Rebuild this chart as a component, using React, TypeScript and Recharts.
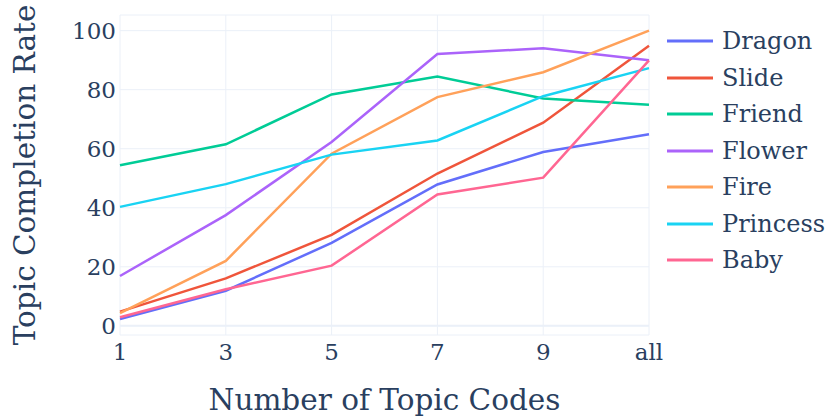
import {
  CartesianGrid,
  Legend,
  Line,
  LineChart,
  ReferenceLine,
  XAxis,
  YAxis,
} from "recharts";

const codes = ["1", "3", "5", "7", "9", "all"];

const dragon = [2.3, 11.9, 28.1, 47.9, 58.9, 64.9];
const slide = [4.8, 16.1, 30.8, 51.6, 68.8, 94.9];
const friend = [54.4, 61.5, 78.4, 84.5, 77.0, 74.9];
const flower = [16.9, 37.5, 62.3, 92.1, 94.0, 90.0];
const fire = [4.3, 22.0, 58.3, 77.5, 85.9, 100.0];
const princess = [40.3, 48.0, 58.0, 62.8, 77.8, 87.3];
const baby = [2.9, 12.4, 20.4, 44.5, 50.2, 89.9];

const yTicks = [0, 20, 40, 60, 80, 100];

const series = [
  { key: "Dragon", values: dragon, color: "#636efa" },
  { key: "Slide", values: slide, color: "#ef553b" },
  { key: "Friend", values: friend, color: "#00cc96" },
  { key: "Flower", values: flower, color: "#ab63fa" },
  { key: "Fire", values: fire, color: "#ffa15a" },
  { key: "Princess", values: princess, color: "#19d3f3" },
  { key: "Baby", values: baby, color: "#ff6692" },
];

const data = codes.map((code, i) => {
  const row: Record<string, string | number> = { code };
  series.forEach((s) => {
    row[s.key] = s.values[i];
  });
  return row;
});

const FONT = "'DejaVu Serif', serif";
const TEXT = "#2a3f5f";
const GRID = "#ebf0f8";

function LegendBox() {
  return (
    <div style={{ fontFamily: FONT, color: TEXT, fontSize: 24 }}>
      {series.map((s) => (
        <div
          key={s.key}
          style={{ display: "flex", alignItems: "center", height: 36.5 }}
        >
          <svg width={46} height={6} style={{ marginRight: 9 }}>
            <line x1={0} y1={3} x2={46} y2={3} stroke={s.color} strokeWidth={3} />
          </svg>
          <span>{s.key}</span>
        </div>
      ))}
    </div>
  );
}

export default function App() {
  return (
    <div style={{ position: "absolute", left: 0, top: 0, background: "#fff" }}>
      <LineChart
        width={827}
        height={416}
        data={data}
        margin={{ top: 15, right: 18, left: 0, bottom: 0 }}
      >
        <CartesianGrid stroke={GRID} strokeWidth={1} />
        <XAxis
          dataKey="code"
          tickLine={false}
          axisLine={false}
          tickSize={0}
          tickMargin={9}
          height={81}
          tick={{ fill: TEXT, fontSize: 23, fontFamily: FONT }}
          label={{
            value: "Number of Topic Codes",
            position: "insideBottom",
            offset: 6,
            fill: TEXT,
            fontSize: 29.5,
            fontFamily: FONT,
          }}
        />
        <YAxis
          type="number"
          domain={[-3.1, 105.3]}
          ticks={yTicks}
          width={120}
          tickLine={false}
          axisLine={false}
          tickSize={0}
          tickMargin={4}
          tick={{ fill: TEXT, fontSize: 23, fontFamily: FONT }}
          label={{
            value: "Topic Completion Rate",
            angle: -90,
            position: "insideLeft",
            offset: 25,
            fill: TEXT,
            fontSize: 29.5,
            fontFamily: FONT,
            style: { textAnchor: "middle" },
          }}
        />
        <ReferenceLine y={0} stroke={GRID} strokeWidth={2} />
        <Legend
          layout="vertical"
          align="right"
          verticalAlign="top"
          content={() => <LegendBox />}
          wrapperStyle={{ left: 667, top: 23, width: 160 }}
        />
        {series.map((s) => (
          <Line
            key={s.key}
            type="linear"
            dataKey={s.key}
            stroke={s.color}
            strokeWidth={2.5}
            dot={false}
            activeDot={false}
            isAnimationActive={false}
          />
        ))}
      </LineChart>
    </div>
  );
}
